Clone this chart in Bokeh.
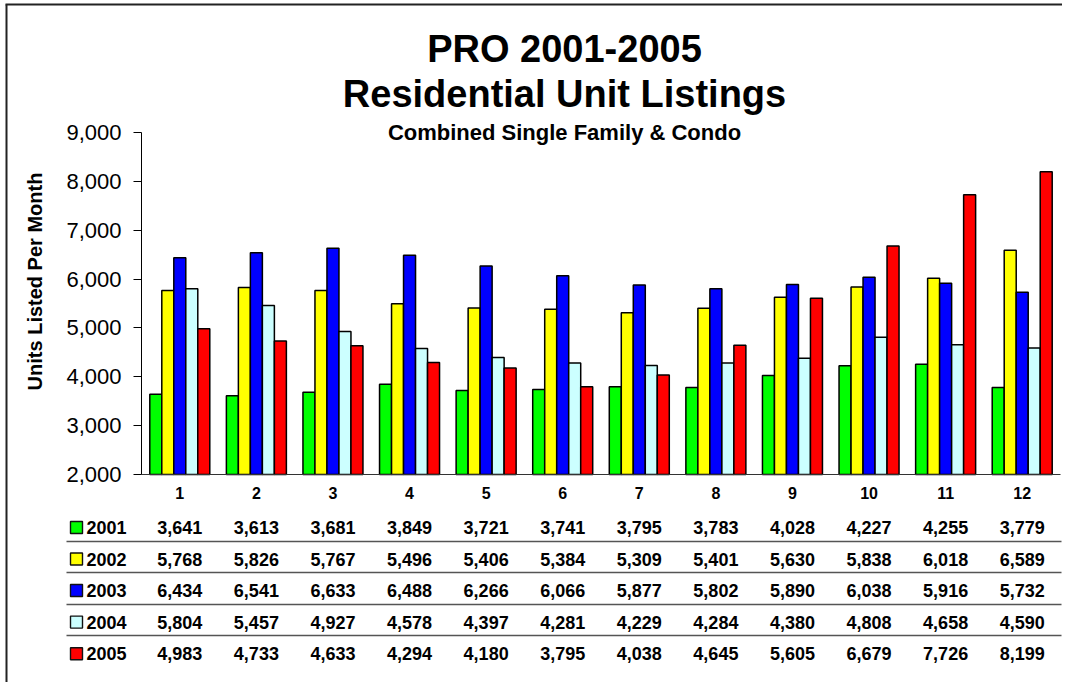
import math
from bokeh.plotting import figure
from bokeh.models import (Range1d, ColumnDataSource, FixedTicker, NumeralTickFormatter)
from bokeh.transform import dodge
from bokeh.core.properties import value
from bokeh.embed import file_html
from bokeh.resources import INLINE

# ---------------- data ----------------
months = ["1", "2", "3", "4", "5", "6", "7", "8", "9", "10", "11", "12"]
years = ["2001", "2002", "2003", "2004", "2005"]
v2001 = [3641, 3613, 3681, 3849, 3721, 3741, 3795, 3783, 4028, 4227, 4255, 3779]
v2002 = [5768, 5826, 5767, 5496, 5406, 5384, 5309, 5401, 5630, 5838, 6018, 6589]
v2003 = [6434, 6541, 6633, 6488, 6266, 6066, 5877, 5802, 5890, 6038, 5916, 5732]
v2004 = [5804, 5457, 4927, 4578, 4397, 4281, 4229, 4284, 4380, 4808, 4658, 4590]
v2005 = [4983, 4733, 4633, 4294, 4180, 3795, 4038, 4645, 5605, 6679, 7726, 8199]
series = [v2001, v2002, v2003, v2004, v2005]
colors = ["#00FF00", "#FFFF00", "#0000FF", "#CCFFFF", "#FF0000"]
y_ticks = [2000, 3000, 4000, 5000, 6000, 7000, 8000, 9000]
title1 = "PRO 2001-2005"
title2 = "Residential Unit Listings"
subtitle = "Combined Single Family & Condo"
ylabel = "Units Listed Per Month"

# ---------------- layout (canvas pixels) ----------------
FONT = "Liberation Sans"
W, H = 1062, 682
FL, FR, FT, FB = 141, 1060, 132, 474          # plot area of the bar chart
YMIN, YMAX = y_ticks[0], y_ticks[-1]
cat_w = (FR - FL) / len(months)


def X(px):
    return (px - FL) / cat_w


def Y(py):
    return YMIN + (FB - py) * (YMAX - YMIN) / (FB - FT)


p = figure(x_range=Range1d(X(0), X(W)), y_range=Range1d(Y(H), Y(0)),
           width=W, height=H, output_backend="svg", toolbar_location=None,
           min_border=0)
p.grid.visible = False
p.grid.grid_line_color = None
p.outline_line_color = None
p.outline_line_alpha = 0
p.outline_line_width = 0
p.background_fill_color = "white"
p.border_fill_color = "white"

mx = [i + 0.5 for i in range(len(months))]   # month slots on the x scale


def hline(x0, x1, py, color, lw):
    # thin filled strip (screen-pixel thickness)
    p.rect(x=[(X(x0) + X(x1)) / 2], y=[Y(py)], width=[X(x1) - X(x0)], height=lw,
           height_units="screen", fill_color=color, line_color=None)


def vline(px, y0, y1, color, lw):
    p.rect(x=[X(px)], y=[(Y(y0) + Y(y1)) / 2], width=lw, height=[Y(y0) - Y(y1)],
           width_units="screen", fill_color=color, line_color=None)


# x axis (at y = 2,000)
xa = p.xaxis[0]
xa.fixed_location = YMIN
xa.bounds = (0, len(months))
xa.ticker = FixedTicker(ticks=mx)
xa.major_label_overrides = {m: lab for m, lab in zip(mx, months)}
xa.axis_line_color = "#333333"
xa.axis_line_width = 1.2
xa.major_tick_line_color = None
xa.minor_tick_line_color = None
xa.major_label_text_font = FONT
xa.major_label_text_font_size = "16px"
xa.major_label_text_font_style = "bold"
xa.major_label_text_color = "black"
xa.major_label_standoff = 6

# y axis (at left edge of bar area)
ya = p.yaxis[0]
ya.fixed_location = 0
ya.bounds = (YMIN, YMAX)
ya.ticker = FixedTicker(ticks=y_ticks)
ya.formatter = NumeralTickFormatter(format="0,0")
ya.axis_line_color = "black"
ya.major_tick_line_color = "black"
ya.major_tick_out = 8
ya.major_tick_in = 0
ya.minor_tick_line_color = None
ya.major_label_text_font = FONT
ya.major_label_text_font_size = "22px"
ya.major_label_text_color = "black"
ya.major_label_standoff = 12

# bars
bw = 12 / cat_w
for i, (vals, col) in enumerate(zip(series, colors)):
    src = ColumnDataSource(dict(x=mx, val=vals))
    p.vbar(x=dodge("x", (i - 2) * bw), top="val", bottom=YMIN, width=bw, source=src,
           fill_color=col, line_color="black", line_width=1.5)


def txt(px, py, text, size, align="center", baseline="alphabetic", angle=0.0):
    p.text(x=[X(px)], y=[Y(py)], text=[text], angle=angle, text_align=align,
           text_baseline=baseline, text_font=value(FONT), text_font_size=size,
           text_font_style="bold", text_color="black")


# titles
txt(564, 48, title1, "38px")
txt(564, 93, title2, "38px")
txt(564, 132, subtitle, "22px")
txt(34, 281, ylabel, "20px", baseline="middle", angle=math.pi / 2)

# outer frame (top and left only visible in the picture)
hline(5, W + 2, 4, "#222222", 2)
vline(6, 4, H + 2, "#222222", 2)

# data table
row_y = [527, 558.5, 590, 621.6, 653.2]
line_y = [541, 572, 604, 635]
for ly in line_y:
    hline(66, FR + 1, ly, "#555555", 1.5)

for yr, vals, col, ry in zip(years, series, colors, row_y):
    p.rect(x=[X(76)], y=[Y(ry)], width=12, height=12, width_units="screen",
           height_units="screen", fill_color=col, line_color="#111111", line_width=1.4)
    txt(86, ry, yr, "18px", align="left", baseline="middle")
    src = ColumnDataSource(dict(x=mx, y=[Y(ry)] * len(mx), t=[f"{v:,}" for v in vals]))
    p.text(x="x", y="y", text="t", source=src, text_align="center",
           text_baseline="middle", text_font=value(FONT), text_font_size="18px",
           text_font_style="bold", text_color="black")

open("out.html", "w").write(file_html(p, INLINE))
